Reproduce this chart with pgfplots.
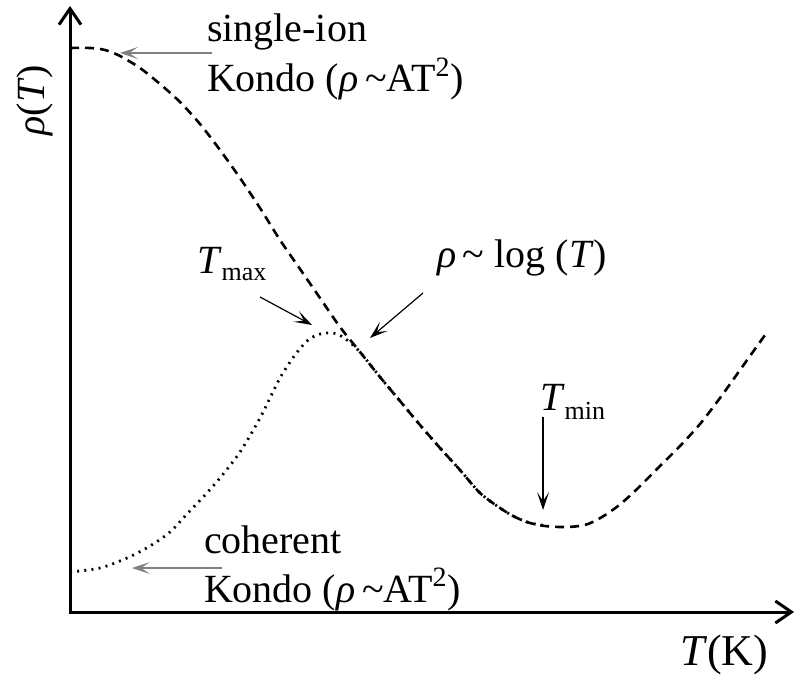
\documentclass[border=0pt]{standalone}
\usepackage{fontspec}
\setmainfont{Liberation Serif}
\usepackage{pgfplots}
\pgfplotsset{compat=1.18}
\usetikzlibrary{arrows.meta}

% Resistivity of a Kondo lattice (schematic, arbitrary units)
\pgfplotstableread{
x y
0 564
20 564
35 562
50 556
70 544
90 528
110 510
130 488
150 462
170 434
190 404
210 372
230 343
250 314
270 285
290 260
310 235
330 211
350 187
370 164
390 142
410 119
430 104
445 95
460 89
475 86
490 85
505 85.5
518 88
532 95
548 106
565 121
590 146
610 166
630 188
650 214
670 242
695 277
}\singleion

\pgfplotstableread{
x y
0 40
30 44
57 54
80 66
100 80
117 98
135 117
150 134
170 160
190 194
210 234
225 257
237 271
247 277
257 279
267 278
277 272
290 260
310 235
330 211
350 187
370 164
390 142
410 119
430 104
445 95
460 89
478 86
}\coherent

\begin{document}
\begin{tikzpicture}[font=\fontsize{20}{24}\selectfont,
  note/.style={-{Stealth[length=9pt,width=6pt,inset=4.5pt]}, line width=0.6pt}]
\useasboundingbox (0,0) rectangle (398pt,340.5pt);
\begin{axis}[
  at={(35pt,34.5pt)}, anchor=south west,
  x=0.5pt, y=0.5pt,
  xmin=0, xmax=724, ymin=0, ymax=606,
  enlargelimits=false,
  axis lines=none,
  clip=false,
]
\draw[line width=1.5pt, {Straight Barb[length=8pt,width=11pt]}-{Straight Barb[length=8pt,width=11pt]}]
  (axis cs:0,606) -- (axis cs:0,0) -- (axis cs:724,0);

\addplot[black, line width=1.4pt, dash pattern=on 1pt off 2.6pt, smooth] table {\coherent};
\addplot[black, line width=1.3pt, dash pattern=on 4.5pt off 3pt, smooth] table {\singleion};

% annotations
\node[anchor=base west] at (axis cs:130,570) {single-ion};
\node[anchor=base west] at (axis cs:130,520) {Kondo (\textit{ρ}\,\textasciitilde AT\textsuperscript{2})};
\draw[note, gray] (axis cs:142,559) -- (axis cs:50,559);

\node[anchor=base west] at (axis cs:127,59) {coherent};
\node[anchor=base west] at (axis cs:127,10) {Kondo (\textit{ρ}\,\textasciitilde AT\textsuperscript{2})};
\draw[note, gray] (axis cs:152,44) -- (axis cs:62,44);

\node[anchor=base west] at (axis cs:120,339) {\textit{T}\raisebox{-3.5pt}{\fontsize{13}{13}\selectfont max}};
\draw[note] (axis cs:190,315) -- (axis cs:242,287);

\node[anchor=base west] at (axis cs:360,344) {\textit{ρ}\,\textasciitilde{} log (\textit{T})};
\draw[note] (axis cs:353,319) -- (axis cs:300,274);

\node[anchor=base west] at (axis cs:463,202) {\textit{T}\raisebox{-4.5pt}{\fontsize{13}{13}\selectfont min}};
\draw[note] (axis cs:473,195) -- (axis cs:473,102);

\node[anchor=base west, font=\fontsize{22}{26}\selectfont] at (axis cs:603,-53) {\textit{T}(K)};
\node[rotate=90] at (axis cs:-35,512) {\textit{ρ}(\textit{T})};
\end{axis}
\end{tikzpicture}
\end{document}
